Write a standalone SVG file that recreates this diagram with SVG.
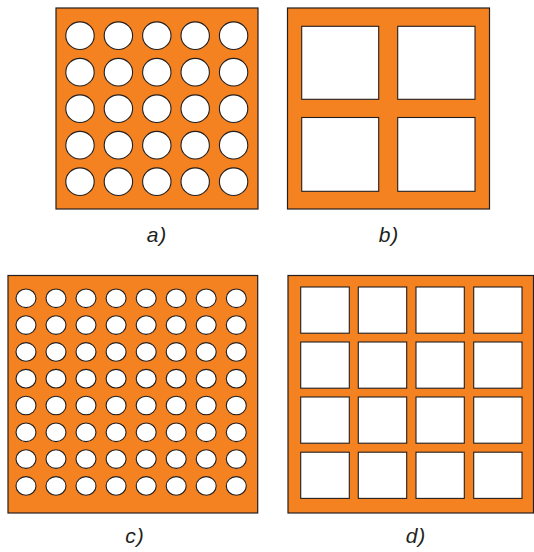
<svg xmlns="http://www.w3.org/2000/svg" width="534" height="552" viewBox="0 0 534 552">
<style>
.plate{fill:#F58220;stroke:#231F20;stroke-width:1.2}
.hole{fill:#fff;stroke:#231F20;stroke-width:1.1}
.lbl{font-family:"Liberation Sans",Arial,sans-serif;font-style:italic;font-size:21px;letter-spacing:1px;fill:#231F20;text-anchor:middle}
</style>
<rect width="534" height="552" fill="#fff"/>
<g id="panel-a">
<rect class="plate" x="56" y="8" width="202" height="201"/>
<g id="a-holes">
<ellipse class="hole" cx="80" cy="35.7" rx="14.2" ry="13.8"/><ellipse class="hole" cx="118.4" cy="35.7" rx="14.2" ry="13.8"/><ellipse class="hole" cx="156.8" cy="35.7" rx="14.2" ry="13.8"/><ellipse class="hole" cx="195.2" cy="35.7" rx="14.2" ry="13.8"/><ellipse class="hole" cx="233.6" cy="35.7" rx="14.2" ry="13.8"/>
<ellipse class="hole" cx="80" cy="72.2" rx="14.2" ry="13.8"/><ellipse class="hole" cx="118.4" cy="72.2" rx="14.2" ry="13.8"/><ellipse class="hole" cx="156.8" cy="72.2" rx="14.2" ry="13.8"/><ellipse class="hole" cx="195.2" cy="72.2" rx="14.2" ry="13.8"/><ellipse class="hole" cx="233.6" cy="72.2" rx="14.2" ry="13.8"/>
<ellipse class="hole" cx="80" cy="108.7" rx="14.2" ry="13.8"/><ellipse class="hole" cx="118.4" cy="108.7" rx="14.2" ry="13.8"/><ellipse class="hole" cx="156.8" cy="108.7" rx="14.2" ry="13.8"/><ellipse class="hole" cx="195.2" cy="108.7" rx="14.2" ry="13.8"/><ellipse class="hole" cx="233.6" cy="108.7" rx="14.2" ry="13.8"/>
<ellipse class="hole" cx="80" cy="145.2" rx="14.2" ry="13.8"/><ellipse class="hole" cx="118.4" cy="145.2" rx="14.2" ry="13.8"/><ellipse class="hole" cx="156.8" cy="145.2" rx="14.2" ry="13.8"/><ellipse class="hole" cx="195.2" cy="145.2" rx="14.2" ry="13.8"/><ellipse class="hole" cx="233.6" cy="145.2" rx="14.2" ry="13.8"/>
<ellipse class="hole" cx="80" cy="181.7" rx="14.2" ry="13.8"/><ellipse class="hole" cx="118.4" cy="181.7" rx="14.2" ry="13.8"/><ellipse class="hole" cx="156.8" cy="181.7" rx="14.2" ry="13.8"/><ellipse class="hole" cx="195.2" cy="181.7" rx="14.2" ry="13.8"/><ellipse class="hole" cx="233.6" cy="181.7" rx="14.2" ry="13.8"/>
</g>
<text class="lbl" x="157" y="242">a)</text>
</g>
<g id="panel-b">
<rect class="plate" x="287.5" y="8" width="202" height="201"/>
<rect class="hole" x="301.7" y="26.3" width="77" height="73"/>
<rect class="hole" x="397.7" y="26.3" width="77.3" height="73"/>
<rect class="hole" x="301.7" y="117.5" width="77" height="73.8"/>
<rect class="hole" x="397.7" y="117.5" width="77.3" height="73.8"/>
<text class="lbl" x="389" y="242">b)</text>
</g>
<g id="panel-c">
<rect class="plate" x="8" y="275.5" width="249.7" height="237.5"/>
<g id="c-holes">
<g id="c-row1"><ellipse class="hole" cx="26" cy="298.3" rx="10" ry="9.3"/><ellipse class="hole" cx="56" cy="298.3" rx="10" ry="9.3"/><ellipse class="hole" cx="86" cy="298.3" rx="10" ry="9.3"/><ellipse class="hole" cx="116.1" cy="298.3" rx="10" ry="9.3"/><ellipse class="hole" cx="146.2" cy="298.3" rx="10" ry="9.3"/><ellipse class="hole" cx="176.2" cy="298.3" rx="10" ry="9.3"/><ellipse class="hole" cx="206.2" cy="298.3" rx="10" ry="9.3"/><ellipse class="hole" cx="236.3" cy="298.3" rx="10" ry="9.3"/></g>
<g transform="translate(0,26.8)"><ellipse class="hole" cx="26" cy="298.3" rx="10" ry="9.3"/><ellipse class="hole" cx="56" cy="298.3" rx="10" ry="9.3"/><ellipse class="hole" cx="86" cy="298.3" rx="10" ry="9.3"/><ellipse class="hole" cx="116.1" cy="298.3" rx="10" ry="9.3"/><ellipse class="hole" cx="146.2" cy="298.3" rx="10" ry="9.3"/><ellipse class="hole" cx="176.2" cy="298.3" rx="10" ry="9.3"/><ellipse class="hole" cx="206.2" cy="298.3" rx="10" ry="9.3"/><ellipse class="hole" cx="236.3" cy="298.3" rx="10" ry="9.3"/></g>
<g transform="translate(0,53.6)"><ellipse class="hole" cx="26" cy="298.3" rx="10" ry="9.3"/><ellipse class="hole" cx="56" cy="298.3" rx="10" ry="9.3"/><ellipse class="hole" cx="86" cy="298.3" rx="10" ry="9.3"/><ellipse class="hole" cx="116.1" cy="298.3" rx="10" ry="9.3"/><ellipse class="hole" cx="146.2" cy="298.3" rx="10" ry="9.3"/><ellipse class="hole" cx="176.2" cy="298.3" rx="10" ry="9.3"/><ellipse class="hole" cx="206.2" cy="298.3" rx="10" ry="9.3"/><ellipse class="hole" cx="236.3" cy="298.3" rx="10" ry="9.3"/></g>
<g transform="translate(0,80.4)"><ellipse class="hole" cx="26" cy="298.3" rx="10" ry="9.3"/><ellipse class="hole" cx="56" cy="298.3" rx="10" ry="9.3"/><ellipse class="hole" cx="86" cy="298.3" rx="10" ry="9.3"/><ellipse class="hole" cx="116.1" cy="298.3" rx="10" ry="9.3"/><ellipse class="hole" cx="146.2" cy="298.3" rx="10" ry="9.3"/><ellipse class="hole" cx="176.2" cy="298.3" rx="10" ry="9.3"/><ellipse class="hole" cx="206.2" cy="298.3" rx="10" ry="9.3"/><ellipse class="hole" cx="236.3" cy="298.3" rx="10" ry="9.3"/></g>
<g transform="translate(0,107.2)"><ellipse class="hole" cx="26" cy="298.3" rx="10" ry="9.3"/><ellipse class="hole" cx="56" cy="298.3" rx="10" ry="9.3"/><ellipse class="hole" cx="86" cy="298.3" rx="10" ry="9.3"/><ellipse class="hole" cx="116.1" cy="298.3" rx="10" ry="9.3"/><ellipse class="hole" cx="146.2" cy="298.3" rx="10" ry="9.3"/><ellipse class="hole" cx="176.2" cy="298.3" rx="10" ry="9.3"/><ellipse class="hole" cx="206.2" cy="298.3" rx="10" ry="9.3"/><ellipse class="hole" cx="236.3" cy="298.3" rx="10" ry="9.3"/></g>
<g transform="translate(0,134)"><ellipse class="hole" cx="26" cy="298.3" rx="10" ry="9.3"/><ellipse class="hole" cx="56" cy="298.3" rx="10" ry="9.3"/><ellipse class="hole" cx="86" cy="298.3" rx="10" ry="9.3"/><ellipse class="hole" cx="116.1" cy="298.3" rx="10" ry="9.3"/><ellipse class="hole" cx="146.2" cy="298.3" rx="10" ry="9.3"/><ellipse class="hole" cx="176.2" cy="298.3" rx="10" ry="9.3"/><ellipse class="hole" cx="206.2" cy="298.3" rx="10" ry="9.3"/><ellipse class="hole" cx="236.3" cy="298.3" rx="10" ry="9.3"/></g>
<g transform="translate(0,160.8)"><ellipse class="hole" cx="26" cy="298.3" rx="10" ry="9.3"/><ellipse class="hole" cx="56" cy="298.3" rx="10" ry="9.3"/><ellipse class="hole" cx="86" cy="298.3" rx="10" ry="9.3"/><ellipse class="hole" cx="116.1" cy="298.3" rx="10" ry="9.3"/><ellipse class="hole" cx="146.2" cy="298.3" rx="10" ry="9.3"/><ellipse class="hole" cx="176.2" cy="298.3" rx="10" ry="9.3"/><ellipse class="hole" cx="206.2" cy="298.3" rx="10" ry="9.3"/><ellipse class="hole" cx="236.3" cy="298.3" rx="10" ry="9.3"/></g>
<g transform="translate(0,187.6)"><ellipse class="hole" cx="26" cy="298.3" rx="10" ry="9.3"/><ellipse class="hole" cx="56" cy="298.3" rx="10" ry="9.3"/><ellipse class="hole" cx="86" cy="298.3" rx="10" ry="9.3"/><ellipse class="hole" cx="116.1" cy="298.3" rx="10" ry="9.3"/><ellipse class="hole" cx="146.2" cy="298.3" rx="10" ry="9.3"/><ellipse class="hole" cx="176.2" cy="298.3" rx="10" ry="9.3"/><ellipse class="hole" cx="206.2" cy="298.3" rx="10" ry="9.3"/><ellipse class="hole" cx="236.3" cy="298.3" rx="10" ry="9.3"/></g>
</g>
<text class="lbl" x="135" y="543">c)</text>
</g>
<g id="panel-d">
<rect class="plate" x="288" y="275.5" width="245.5" height="237.5"/>
<g id="d-holes">
<rect class="hole" x="300.7" y="287" width="48.6" height="46.2"/><rect class="hole" x="358.3" y="287" width="48.4" height="46.2"/><rect class="hole" x="416" y="287" width="48.3" height="46.2"/><rect class="hole" x="473.7" y="287" width="48.3" height="46.2"/>
<rect class="hole" x="300.7" y="342" width="48.6" height="46.2"/><rect class="hole" x="358.3" y="342" width="48.4" height="46.2"/><rect class="hole" x="416" y="342" width="48.3" height="46.2"/><rect class="hole" x="473.7" y="342" width="48.3" height="46.2"/>
<rect class="hole" x="300.7" y="397" width="48.6" height="46.2"/><rect class="hole" x="358.3" y="397" width="48.4" height="46.2"/><rect class="hole" x="416" y="397" width="48.3" height="46.2"/><rect class="hole" x="473.7" y="397" width="48.3" height="46.2"/>
<rect class="hole" x="300.7" y="452.2" width="48.6" height="46.2"/><rect class="hole" x="358.3" y="452.2" width="48.4" height="46.2"/><rect class="hole" x="416" y="452.2" width="48.3" height="46.2"/><rect class="hole" x="473.7" y="452.2" width="48.3" height="46.2"/>
</g>
<text class="lbl" x="416" y="543">d)</text>
</g>
</svg>
